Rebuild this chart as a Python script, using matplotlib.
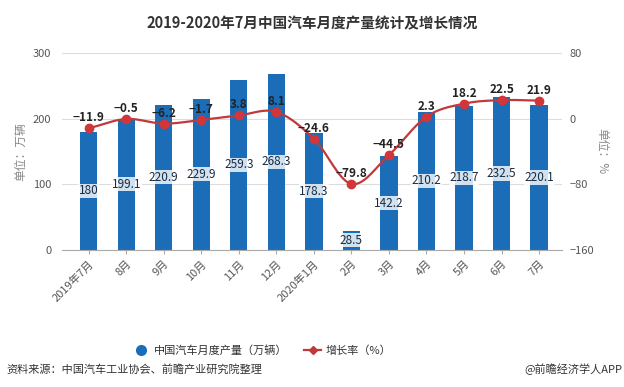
import numpy as np
import matplotlib.pyplot as plt
from matplotlib.lines import Line2D

plt.rcParams['font.family'] = ['Noto Sans CJK SC', 'DejaVu Sans']

months = ["2019年7月", "8月", "9月", "10月", "11月", "12月", "2020年1月",
          "2月", "3月", "4月", "5月", "6月", "7月"]
output = [180, 199.1, 220.9, 229.9, 259.3, 268.3, 178.3, 28.5, 142.2, 210.2, 218.7, 232.5, 220.1]
growth = [-11.9, -0.5, -6.2, -1.7, 3.8, 8.1, -24.6, -79.8, -44.5, 2.3, 18.2, 22.5, 21.9]

bar_color = "#1b6db8"
line_color = "#c0393b"
text_gray = "#555555"


def smooth(x, y, n=20):
    # cubic hermite through the points, only for drawing the curve
    x = np.asarray(x, float)
    y = np.asarray(y, float)
    m = np.gradient(y, x)
    xs, ys = [], []
    for i in range(len(x) - 1):
        t = np.linspace(0, 1, n)
        h = x[i + 1] - x[i]
        h00 = 2 * t**3 - 3 * t**2 + 1
        h10 = t**3 - 2 * t**2 + t
        h01 = -2 * t**3 + 3 * t**2
        h11 = t**3 - t**2
        xs.append(x[i] + t * h)
        ys.append(h00 * y[i] + h10 * h * m[i] + h01 * y[i + 1] + h11 * h * m[i + 1])
    return np.concatenate(xs), np.concatenate(ys)


fig = plt.figure(figsize=(6.24, 3.87), dpi=100)
ax = fig.add_axes([0.10, 0.355, 0.80, 0.508])
x = np.arange(len(months))

ax.bar(x, output, width=0.46, color=bar_color, zorder=2)
ax.set_ylim(0, 300)
ax.set_yticks([0, 100, 200, 300])
ax.set_xlim(-0.7, len(months) - 0.4)
ax.grid(axis="y", color="#dddddd", linewidth=0.8, zorder=0)
for s in ["top", "right", "left"]:
    ax.spines[s].set_visible(False)
ax.spines["bottom"].set_color("#aaaaaa")
ax.tick_params(axis="y", length=0, labelsize=8, labelcolor=text_gray, pad=8)
ax.tick_params(axis="x", length=3, color="#aaaaaa", labelsize=8, labelcolor=text_gray)
ax.set_xticks(x)
ax.set_xticklabels(months, rotation=45, ha="right", rotation_mode="anchor")
ax.set_ylabel("单位：万辆", fontsize=8.5, color="#888888", labelpad=4)

for xi, v in zip(x, output):
    ax.text(xi, v / 2, f"{v:g}", ha="center", va="center", fontsize=8.5,
            color="#1a2a40", zorder=4,
            bbox=dict(boxstyle="square,pad=0.05", fc="white", ec="none", alpha=0.8))

ax2 = ax.twinx()
ax2.set_ylim(-160, 80)
ax2.set_yticks([-160, -80, 0, 80])
for s in ["top", "right", "left", "bottom"]:
    ax2.spines[s].set_visible(False)
ax2.tick_params(axis="y", length=0, labelsize=8, labelcolor=text_gray, pad=6)
ax2.set_ylabel("单位：%", fontsize=8.5, color="#888888", rotation=-90, labelpad=10)

sx, sy = smooth(x, growth)
ax2.plot(sx, sy, color=line_color, linewidth=1.6, zorder=5)
ax2.plot(x, growth, "o", color="#d0363a", markersize=6, zorder=6)
for xi, v in zip(x, growth):
    lab = f"{v:g}".replace("-", "−")
    ax2.text(xi, v + 5, lab, ha="center", va="bottom", fontsize=8.5,
             fontweight="bold", color="#222222", zorder=7)

fig.text(0.5, 0.94, "2019-2020年7月中国汽车月度产量统计及增长情况", ha="center",
         va="center", fontsize=10.5, fontweight="bold", color="#333333")

handles = [
    Line2D([], [], marker="o", linestyle="none", color=bar_color, markersize=7),
    Line2D([], [], marker="D", color=line_color, markersize=4, linewidth=1.6),
]
fig.legend(handles, ["中国汽车月度产量（万辆）", "增长率（%）"], loc="center",
           bbox_to_anchor=(0.42, 0.095), ncol=2, frameon=False, fontsize=8,
           handlelength=1.5, handletextpad=0.4, columnspacing=1.5,
           labelcolor="#333333")

fig.text(0.01, 0.045, "资料来源：中国汽车工业协会、前瞻产业研究院整理", fontsize=8,
         color="#333333", va="center")
fig.text(0.998, 0.045, "@前瞻经济学人APP", fontsize=8, color="#333333",
         va="center", ha="right")

fig.savefig("out.png", dpi=100)
